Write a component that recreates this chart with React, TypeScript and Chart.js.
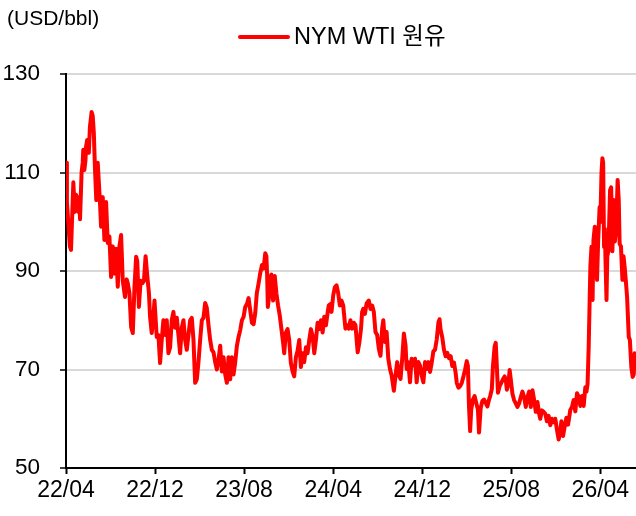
import React, { useEffect, useRef } from 'react';
import { Chart, registerables } from 'chart.js';

Chart.register(...registerables);

const unitLabel = '(USD/bbl)';
const seriesName = 'NYM WTI 원유';
const lineColor = '#FF0000';
const FONT = "'Liberation Sans', Arial, 'Noto Sans CJK KR', sans-serif";

// x = months since 2022/04
const xTickPositions = [0, 8, 16, 24, 32, 40, 48];
const xTickLabels = ['22/04', '22/12', '23/08', '24/04', '24/12', '25/08', '26/04'];
const yTicks = [50, 70, 90, 110, 130];

const months2022 = [
  0, 0.08, 0.2, 0.35, 0.45, 0.6, 0.66, 0.78, 0.9, 1.0,
  1.1, 1.2, 1.26, 1.4, 1.5, 1.55, 1.65, 1.75, 1.8, 1.9,
  2.05, 2.15, 2.3, 2.4, 2.5, 2.6, 2.72, 2.85, 2.95, 3.05,
  3.15, 3.3, 3.45, 3.6, 3.75, 3.9, 4.05, 4.2, 4.35, 4.5,
  4.65, 4.8, 4.95, 5.1, 5.3, 5.45, 5.55, 5.7, 5.85, 6.0,
  6.15, 6.3, 6.4, 6.55, 6.7, 6.85, 7.0, 7.15, 7.3, 7.45,
  7.55, 7.7, 7.85, 7.95, 8.15, 8.3, 8.45, 8.6, 8.75, 8.9,
];
const prices2022 = [
  112, 104, 100, 95, 94.3, 104, 108, 102, 105.5, 104,
  102, 105, 100.5, 110, 112, 114.6, 110.5, 112.5, 115.2, 116.6,
  114, 119.3, 122.3, 121.5, 118, 111, 104.4, 112, 108, 104,
  99, 105, 96.3, 104, 95.7, 97, 88.8, 95, 89.5, 94.5,
  86.8, 95, 97.3, 88, 84.7, 88.3, 87.5, 85.5, 78.6, 77.4,
  86.7, 92.9, 92, 82.7, 88, 87.5, 88, 93, 89, 85.5,
  80.7, 77.4, 80.7, 84, 76.6, 77, 71.3, 76, 80, 77,
];

const months2023 = [
  9.05, 9.2, 9.35, 9.5, 9.65, 9.8, 9.95, 10.1, 10.25, 10.4,
  10.55, 10.7, 10.85, 11.0, 11.15, 11.3, 11.45, 11.6, 11.75, 11.9,
  12.05, 12.2, 12.35, 12.5, 12.65, 12.8, 12.95, 13.1, 13.25, 13.4,
  13.55, 13.7, 13.85, 14.0, 14.15, 14.3, 14.45, 14.6, 14.75, 14.9,
  15.05, 15.2, 15.35, 15.5, 15.65, 15.8, 15.95, 16.1, 16.25, 16.4,
  16.55, 16.7, 16.85, 17.0, 17.14, 17.3, 17.45, 17.6, 17.75, 17.9,
  18.0, 18.07, 18.13, 18.3, 18.45, 18.6, 18.75, 18.9, 19.05, 19.2,
  19.35, 19.5, 19.6, 19.75, 19.9, 20.05, 20.2, 20.35, 20.5, 20.65,
  20.8, 20.95,
];
const prices2023 = [
  80, 73.3, 74.5, 80, 81.7, 78.5, 80.5, 77, 73.3, 78.5,
  80, 76, 74, 77, 80, 80.5, 76, 67.3, 68, 71.5,
  76, 80, 80.5, 83.5, 82.5, 79, 76, 74, 73.5, 71.5,
  70, 72, 74.8, 69.6, 72.5, 69, 67.3, 72.5, 68, 72.5,
  69, 71.5, 74.8, 76.6, 78, 80, 80.7, 82.7, 83.3, 84.5,
  82, 79.5, 79.2, 81.5, 85.5, 87.5, 89.6, 91.2, 90.5, 93.6,
  93, 89, 82.7, 86, 89.3, 84, 89, 85.5, 83, 81,
  78.2, 75.5, 73.3, 77.5, 78.2, 76, 71.3, 69.6, 68.6, 72.5,
  73.8, 76,
];

const months2024 = [
  21.1, 21.25, 21.4, 21.55, 21.7, 21.85, 22.0, 22.15, 22.3, 22.45,
  22.6, 22.75, 22.9, 23.05, 23.2, 23.35, 23.5, 23.6, 23.75, 23.85,
  24.0, 24.15, 24.3, 24.45, 24.6, 24.75, 24.9, 25.1, 25.25, 25.4,
  25.55, 25.7, 25.85, 26.0, 26.2, 26.35, 26.5, 26.6, 26.7, 26.85,
  27.0, 27.2, 27.35, 27.5, 27.65, 27.8, 27.95, 28.1, 28.25, 28.4,
  28.5, 28.65, 28.8, 28.95, 29.1, 29.25, 29.45, 29.6, 29.75, 29.9,
  30.05, 30.2, 30.35, 30.5, 30.6, 30.75, 30.9, 31.05, 31.2, 31.35,
  31.5, 31.65, 31.8, 31.95, 32.1, 32.25, 32.4, 32.55, 32.7, 32.85,
];
const prices2024 = [
  70.5, 73.3, 71.5, 74.5, 73.3, 76, 78.2, 76.8, 73.3, 76,
  79.5, 78.2, 80, 77.5, 80.7, 79, 81.5, 83, 83.3, 81.7,
  85, 86.7, 87.1, 85.5, 83, 84, 83, 78.3, 79, 78.3,
  80, 78.3, 79.5, 79, 73.5, 75.5, 78.3, 81.7, 82.3, 81.3,
  83.4, 84, 82.3, 83, 81.7, 77.6, 77, 74.2, 72.8, 78.3,
  80, 75.6, 77.6, 72.2, 70.1, 68.8, 65.7, 68.8, 71.5, 68.8,
  68.1, 72.2, 77.3, 74.9, 70.1, 71.5, 67.4, 72.2, 70.8, 72.2,
  67.4, 71.5, 70.8, 68.8, 67.4, 71.5, 70.1, 71.5, 69.5, 71.4,
];

const months2025 = [
  33.0, 33.15, 33.3, 33.45, 33.55, 33.65, 33.8, 33.95, 34.1, 34.25,
  34.4, 34.55, 34.7, 34.85, 35.0, 35.1, 35.25, 35.4, 35.55, 35.7,
  35.85, 36.0, 36.1, 36.2, 36.3, 36.4, 36.55, 36.7, 36.85, 37.0,
  37.1, 37.25, 37.4, 37.55, 37.7, 37.85, 38.0, 38.1, 38.25, 38.35,
  38.5, 38.6, 38.7, 38.8, 38.95, 39.1, 39.25, 39.4, 39.5, 39.6,
  39.75, 39.85, 39.95, 40.1, 40.25, 40.4, 40.55, 40.7, 40.85, 41.0,
  41.15, 41.3, 41.45, 41.6, 41.75, 41.9, 42.05, 42.2, 42.35, 42.5,
  42.6, 42.75, 42.9, 43.05, 43.2, 43.35, 43.5, 43.65, 43.8, 43.95,
  44.1, 44.25, 44.4, 44.5, 44.65, 44.8, 44.95,
];
const prices2025 = [
  73.7, 74, 76.1, 79.5, 80.2, 78.1, 76.5, 74, 72.7, 73.4,
  72.3, 72.7, 70.7, 71.4, 69.3, 67.3, 66.3, 66.6, 67.3, 68.6,
  70, 71.7, 70.7, 62.5, 57.5, 61.9, 63.9, 64.6, 63.2, 61.9,
  57.2, 62.2, 63.6, 63.9, 63.2, 62.5, 63.9, 64.6, 66, 70.7,
  74.7, 75.4, 70.7, 65.3, 66.6, 67.3, 68, 68.6, 68, 65.9,
  67.3, 69.9, 68, 65.1, 63.8, 63.1, 62.4, 63.1, 64.4, 65.5,
  64.4, 62.4, 64.4, 65.5, 62.4, 65.8, 63.8, 61.4, 63.4, 61,
  60, 61.7, 61.4, 61, 59.5, 60.6, 58.7, 60, 59.3, 60,
  57.8, 55.8, 57.3, 59.5, 56.5, 58.5, 60.2,
];

const months2026 = [
  45.1, 45.3, 45.45, 45.6, 45.75, 45.9, 46.05, 46.2, 46.35, 46.5,
  46.65, 46.75, 46.85, 46.95, 47.1, 47.2, 47.3, 47.38, 47.5, 47.58,
  47.7, 47.8, 47.93, 48.0, 48.1, 48.18, 48.25, 48.33, 48.4, 48.47,
  48.55, 48.62, 48.72, 48.87, 48.97, 49.08, 49.2, 49.3, 49.42, 49.55,
  49.65, 49.73, 49.85, 49.98, 50.08, 50.18, 50.28, 50.4, 50.55, 50.65,
  50.78, 50.9, 51.0, 51.08, 51.2,
];
const prices2026 = [
  58.8, 61.8, 62.4, 63.8, 61.5, 65.2, 64.5, 62.6, 64.6, 62.6,
  66.4, 65.5, 67, 74.6, 90.8, 94.9, 84.1, 96.3, 99, 97.5,
  88.2, 96, 103, 100, 109.9, 112.9, 112, 94.9, 98.6, 91.4,
  84.1, 93, 94, 106.4, 107, 94, 104.4, 96, 98.6, 108.5,
  104.4, 95.5, 95, 88.2, 93, 90.8, 88.2, 84.7, 76.6, 76,
  70.5, 68.5, 69, 73.3, 73,
];

const allMonths = [...months2022, ...months2023, ...months2024, ...months2025, ...months2026];
const allPrices = [...prices2022, ...prices2023, ...prices2024, ...prices2025, ...prices2026];

const headerPlugin = {
  id: 'headerTexts',
  afterDraw(chart: any) {
    const ctx = chart.ctx;
    ctx.save();
    ctx.fillStyle = '#000';
    ctx.textAlign = 'left';
    ctx.textBaseline = 'middle';
    ctx.font = `21px ${FONT}`;
    ctx.fillText(unitLabel, 7, 19);
    ctx.strokeStyle = lineColor;
    ctx.lineWidth = 4;
    ctx.lineCap = 'round';
    ctx.beginPath();
    ctx.moveTo(240, 37);
    ctx.lineTo(288, 37);
    ctx.stroke();
    ctx.font = `23.5px ${FONT}`;
    ctx.fillText(seriesName, 294, 38);
    ctx.restore();
  },
};

export default function App() {
  const canvasRef = useRef<HTMLCanvasElement | null>(null);

  useEffect(() => {
    if (!canvasRef.current) return;
    const chart = new Chart(canvasRef.current, {
      type: 'line',
      data: {
        datasets: [
          {
            label: seriesName,
            data: allMonths.map((m, i) => ({ x: m, y: allPrices[i] })),
            borderColor: lineColor,
            backgroundColor: lineColor,
            borderWidth: 4,
            pointRadius: 0,
            tension: 0,
            borderJoinStyle: 'round',
            borderCapStyle: 'round',
          },
        ],
      },
      options: {
        responsive: false,
        animation: false,
        layout: { padding: { top: 74, right: 0, bottom: 0, left: 0 } },
        plugins: { legend: { display: false }, tooltip: { enabled: false } },
        scales: {
          x: {
            type: 'linear',
            min: 0,
            max: 51.2,
            afterFit: (s: any) => { s.height = 48; },
            afterBuildTicks: (s: any) => { s.ticks = xTickPositions.map((v) => ({ value: v })); },
            ticks: {
              callback: (_v: any, i: number) => xTickLabels[i],
              font: { size: 23, family: FONT },
              color: '#000',
              padding: 3,
              maxRotation: 0,
              autoSkip: false,
            },
            grid: { drawOnChartArea: false, drawTicks: true, tickLength: 6, tickColor: '#000', tickWidth: 2 },
            border: { color: '#000', width: 2 },
          },
          y: {
            min: 50,
            max: 130,
            afterFit: (s: any) => { s.width = 66; },
            afterBuildTicks: (s: any) => { s.ticks = yTicks.map((v) => ({ value: v })); },
            ticks: { font: { size: 22.5, family: FONT }, color: '#000', padding: 20 },
            grid: {
              color: (c: any) => (c.tick && c.tick.value === 50 ? 'rgba(0,0,0,0)' : '#d9d9d9'),
              lineWidth: 2,
              tickColor: '#404040',
              tickLength: 6,
              tickWidth: 2,
            },
            border: { color: '#000', width: 2 },
          },
        },
      },
      plugins: [headerPlugin],
    });
    return () => chart.destroy();
  }, []);

  return (
    <div style={{ position: 'absolute', left: 0, top: 0, width: 636, height: 516, background: '#fff' }}>
      <canvas ref={canvasRef} width={636} height={516} style={{ display: 'block' }} />
    </div>
  );
}
